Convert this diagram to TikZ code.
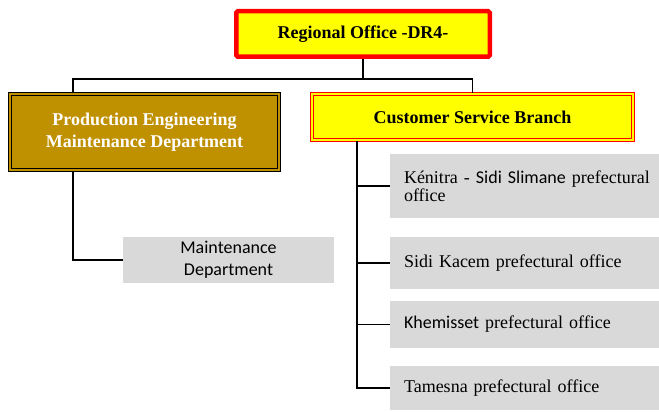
\documentclass[tikz,border=0pt]{standalone}
\usepackage{fontspec}
\setmainfont{Liberation Serif}
\newfontfamily\calibri{Carlito}
\definecolor{headred}{HTML}{FF0000}
\definecolor{headyellow}{HTML}{FFFF00}
\definecolor{deptgold}{HTML}{BF9000}
\definecolor{cellgray}{HTML}{D9D9D9}

\begin{document}
\begin{tikzpicture}[x=1pt, y=-1pt,
  wire/.style={line width=1.6pt, black},
  headbox/.style={draw=headred, line width=4.5pt, fill=headyellow, rounded corners=1.5pt,
    font=\fontsize{18}{21}\selectfont\bfseries},
  branchbox/.style={draw=headred, line width=1.2pt, double=headyellow, double distance=1.6pt,
    fill=headyellow, font=\fontsize{18}{21}\selectfont\bfseries},
  deptbox/.style={draw=black, line width=1.2pt, double=deptgold, double distance=1.6pt,
    fill=deptgold, text=white, align=center, font=\fontsize{18}{22}\selectfont\bfseries},
  cell/.style={fill=cellgray, inner sep=0pt, font=\fontsize{18}{22}\selectfont},
  office/.style={cell, inner xsep=14pt, text width=241pt, align=left}]
  \useasboundingbox (0,0) rectangle (659,412);

  % boxes
  \node[headbox, minimum width=253.5pt, minimum height=45.5pt] (top) at (363,34) {Regional Office -DR4-};
  \node[deptbox, minimum width=269pt, minimum height=76pt] (prod) at (144.5,132)
    {Production Engineering\\Maintenance Department};
  \node[branchbox, minimum width=321pt, minimum height=46pt] (cs) at (472.5,117) {Customer Service Branch};
  \node[cell, minimum width=211pt, minimum height=46pt, align=center] (maint) at (228.5,260)
    {\calibri Maintenance\\\calibri Department};
  \node[office, minimum height=64pt, font=\fontsize{18}{18.5}\selectfont] (k1) at (524.5,186)
    {\mbox{K\'enitra - {\calibri Sidi Slimane} prefectural}\\office};
  \node[office, minimum height=52pt] (k2) at (524.5,263) {Sidi Kacem prefectural office};
  \node[office, minimum height=47pt] (k3) at (524.5,324.5) {{\calibri Khemisset} prefectural office};
  \node[office, minimum height=44pt] (k4) at (524.5,388) {Tamesna prefectural office};

  % connectors
  \coordinate (bus) at (363,79);
  \coordinate (pdn) at (73,0);
  \coordinate (csx) at (357,0);
  \draw[wire] (top.south) -- (bus);
  \draw[wire] (pdn |- prod.north) |- (bus) -| (cs.north);
  \draw[wire] (pdn |- prod.south) |- (maint.west);
  \draw[wire] (csx |- cs.south) |- (k4.west);
  \foreach \o in {k1,k2,k3}
    \draw[wire] (csx |- \o.west) -- (\o.west);
\end{tikzpicture}
\end{document}
